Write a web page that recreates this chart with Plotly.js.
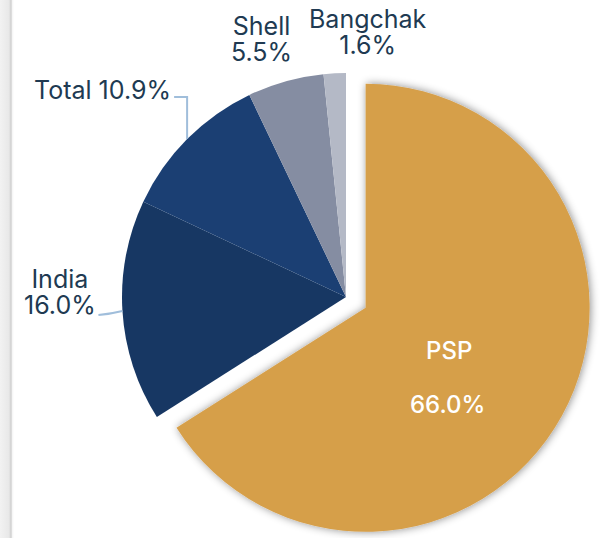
<!DOCTYPE html>
<html>
<head>
<meta charset="utf-8">
<script src="https://cdn.plot.ly/plotly-3.0.1.min.js"></script>
<style>
  html, body { margin: 0; padding: 0; overflow: hidden; background: #ffffff; }
  #wrap { width: 603px; height: 550px; position: relative;
    background: linear-gradient(to right, #f2f2f2 0px, #e8e8e8 9px, #cfcfcf 11px, #f6f6f6 12.5px, #ffffff 14px); }
  #chart { width: 603px; height: 550px; }
</style>
</head>
<body>
<div id="wrap"><div id="chart"></div></div>
<script>
// ---- data ----
const labels = ["PSP", "India", "Total", "Shell", "Bangchak"];
const shares = [66.0, 16.0, 10.9, 5.5, 1.6];
const sliceColors = ["#D69F4A", "#173763", "#1B3F73", "#858DA2", "#B4B9C6"];
const pulls = [0.1, 0, 0, 0, 0];

// ---- geometry (pixels in a 603 x 550 figure) ----
const W = 603, H = 550;
const CX = 346, CY = 297, R = 224;
const px = x => x / W;
const py = y => 1 - y / H;
const rx = 2 * R * (1 + Math.max(...pulls));

const total = shares.reduce((a, b) => a + b, 0);
const mids = [];
let acc = 0;
shares.forEach(v => { mids.push((acc + v / 2) / total * 2 * Math.PI); acc += v; });
const edge = i => {
  const t = mids[i];
  const pr = R * pulls[i];
  const ox = CX + pr * Math.sin(t), oy = CY - pr * Math.cos(t);
  return { x: CX + R * Math.sin(t), y: CY - R * Math.cos(t), ox: ox, oy: oy };
};
const pct = i => (shares[i] / total * 100).toFixed(1) + "%";

const outFont = { family: "Inter, sans-serif", size: 25, color: "#203a52" };
const inFont = { family: "Inter, sans-serif", size: 24, color: "#ffffff", weight: 500 };

const annotations = [];
const addText = (text, x, y, font) => annotations.push({
  xref: "paper", yref: "paper", x: px(x), y: py(y), text: text,
  showarrow: false, xanchor: "center", yanchor: "middle", align: "center",
  borderpad: 0, font: font
});

// PSP (inside, relative to pulled slice origin)
{ const e = edge(0);
  addText(labels[0], e.ox + 83, e.oy + 42.7, inFont);
  addText(pct(0), e.ox + 82, e.oy + 96.7, inFont); }
// India
{ const e = edge(1);
  addText(labels[1] + "<br>" + pct(1), e.x - 62.7, e.y - 15.85, outFont); }
// Total
{ const e = edge(2);
  addText(labels[2] + " " + pct(2), e.x - 84.6, e.y - 49.1, outFont); }
// Shell
{ const e = edge(3);
  addText(labels[3] + "<br>" + pct(3), e.x - 24, e.y - 39.25, outFont); }
// Bangchak
{ const e = edge(4);
  addText(labels[4] + "<br>" + pct(4), e.x + 33.2, e.y - 38.05, outFont); }

// connectors
const lineStyle = { color: "#a0bedb", width: 2 };
const shapes = [];
{ const e = edge(2);
  shapes.push({ type: "path", xref: "paper", yref: "paper", line: lineStyle,
    path: "M" + px(e.x) + "," + py(e.y) + " L" + px(e.x) + "," + py(e.y - 42) + " L" + px(e.x - 13) + "," + py(e.y - 42) }); }
{ const e = edge(1);
  shapes.push({ type: "path", xref: "paper", yref: "paper", line: lineStyle,
    path: "M" + px(e.x) + "," + py(e.y) + " Q" + px(e.x - 12) + "," + py(e.y + 3) + " " + px(e.x - 24) + "," + py(e.y + 4) }); }

const trace = {
  type: "pie",
  labels: labels,
  values: shares,
  sort: false,
  direction: "clockwise",
  rotation: 0,
  pull: pulls,
  marker: { colors: sliceColors, line: { width: 0 } },
  textinfo: "none",
  domain: { x: [px(CX - rx / 2), px(CX + rx / 2)], y: [py(CY + rx / 2 + 1), py(CY - rx / 2 - 1)] },
  showlegend: false,
  hoverinfo: "none"
};

const layout = {
  width: W,
  height: H,
  margin: { l: 0, r: 0, t: 0, b: 0 },
  paper_bgcolor: "rgba(0,0,0,0)",
  plot_bgcolor: "rgba(0,0,0,0)",
  showlegend: false,
  annotations: annotations,
  shapes: shapes
};

Plotly.newPlot("chart", [trace], layout, { displayModeBar: false, staticPlot: true }).then(function (gd) {
  const svg = gd.querySelector("svg.main-svg");
  const ns = "http://www.w3.org/2000/svg";
  let defs = svg.querySelector("defs");
  if (!defs) { defs = document.createElementNS(ns, "defs"); svg.insertBefore(defs, svg.firstChild); }
  const f = document.createElementNS(ns, "filter");
  f.setAttribute("id", "sliceShadow");
  f.setAttribute("x", "-10%"); f.setAttribute("y", "-10%");
  f.setAttribute("width", "120%"); f.setAttribute("height", "120%");
  const ds = document.createElementNS(ns, "feDropShadow");
  ds.setAttribute("dx", "1"); ds.setAttribute("dy", "0");
  ds.setAttribute("stdDeviation", "4");
  ds.setAttribute("flood-color", "#000000");
  ds.setAttribute("flood-opacity", "0.45");
  f.appendChild(ds);
  defs.appendChild(f);
  const slices = gd.querySelectorAll("g.slice");
  if (slices.length) {
    const p = slices[0].querySelector("path.surface");
    if (p) p.setAttribute("filter", "url(#sliceShadow)");
  }
  // tighten the line spacing of two-line outside labels
  gd.querySelectorAll("text.annotation-text").forEach(function (t) {
    const lines = t.querySelectorAll("tspan.line");
    if (lines.length === 2) lines[1].setAttribute("dy", "1.04em");
  });
});
</script>
</body>
</html>
